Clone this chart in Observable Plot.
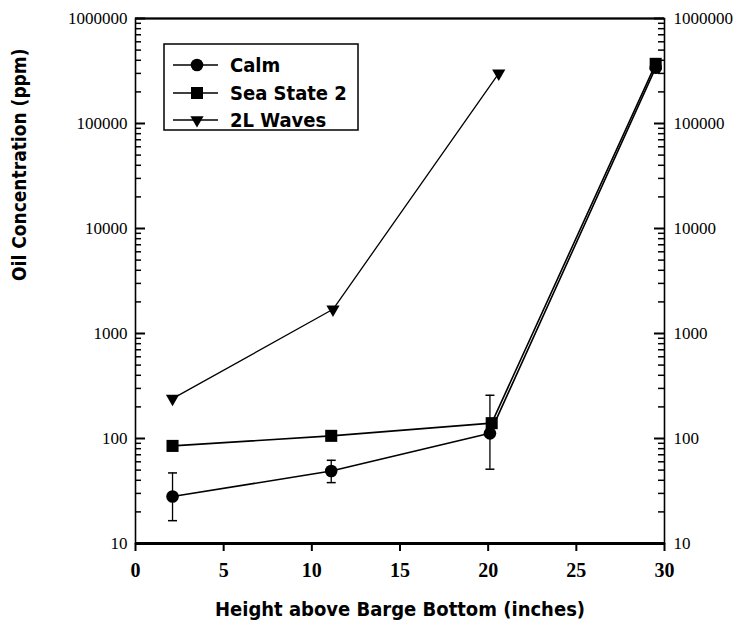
<!DOCTYPE html>
<html>
<head>
<meta charset="utf-8">
<script src="https://cdn.jsdelivr.net/npm/d3@7"></script>
<script src="https://cdn.jsdelivr.net/npm/@observablehq/plot@0.6"></script>
<style>
  html, body { margin: 0; padding: 0; background: white; }
  #wrap { position: relative; width: 753px; height: 628px; }
  #legend { position: absolute; left: 163px; top: 43px; }
</style>
</head>
<body>
<div id="wrap"></div>
<script>
// ---- data ----
const seriesNames = ["Calm", "Sea State 2", "2L Waves"];

const calmX = [2.1, 11.1, 20.1, 29.5];
const calmY = [28, 49, 112, 340000];
const calmErrLow = [16.5, 38, 51];
const calmErrHigh = [47, 62, 258];

const seaX = [2.1, 11.1, 20.2, 29.5];
const seaY = [85, 106, 140, 370000];

const wavesX = [2.1, 11.2, 20.6];
const wavesY = [240, 1700, 300000];

const xTicks = [0, 5, 10, 15, 20, 25, 30];
const yMajor = [10, 100, 1000, 10000, 100000, 1000000];
const yMinorMult = [2, 3, 4, 5, 6, 7, 8, 9];
const yDecades = [10, 100, 1000, 10000, 100000];

const xLabel = "Height above Barge Bottom (inches)";
const yLabel = "Oil Concentration (ppm)";

// ---- build tables ----
const calm = calmX.map((x, i) => ({x, y: calmY[i]}));
const calmErr = calmErrLow.map((lo, i) => ({x: calmX[i], lo, hi: calmErrHigh[i]}));
const sea = seaX.map((x, i) => ({x, y: seaY[i]}));
const waves = wavesX.map((x, i) => ({x, y: wavesY[i]}));
const yMinor = yDecades.flatMap(d => yMinorMult.map(m => m * d));

const W = 753, H = 628, ML = 135, MR = 89, MT = 18, MB = 85;
const FW = W - ML - MR, FH = H - MT - MB;

const capSymbol = {draw(c, s) { const w = Math.sqrt(s / Math.PI); c.moveTo(-w, 0); c.lineTo(w, 0); }};

const serif = "Liberation Serif, Times New Roman, serif";
const cond = "DejaVu Sans Condensed, DejaVu Sans, sans-serif";

const chart = Plot.plot({
  width: W,
  height: H,
  marginLeft: ML,
  marginRight: MR,
  marginTop: MT,
  marginBottom: MB,
  style: {background: "white", color: "black", overflow: "visible"},
  x: {domain: [0, 30], axis: null},
  y: {type: "log", domain: [10, 1000000], axis: null},
  marks: [
    // frame
    Plot.frame({stroke: "black", strokeWidth: 1.6}),
    Plot.ruleY([10], {stroke: "black", strokeWidth: 3}),
    Plot.ruleY([1000000], {stroke: "black", strokeWidth: 2.2}),
    // left axis ticks (inward)
    Plot.ruleY(yMajor, {y: d => d, insetRight: FW - 10, stroke: "black", strokeWidth: 2}),
    Plot.ruleY(yMinor, {y: d => d, insetRight: FW - 6, stroke: "black", strokeWidth: 1.5}),
    Plot.text(yMajor, {y: d => d, text: d => String(d), frameAnchor: "left", dx: -8, textAnchor: "end",
      fontSize: 17, fontFamily: serif}),
    // right axis ticks (inward)
    Plot.ruleY(yMajor, {y: d => d, insetLeft: FW - 10, stroke: "black", strokeWidth: 2}),
    Plot.ruleY(yMinor, {y: d => d, insetLeft: FW - 6, stroke: "black", strokeWidth: 1.5}),
    Plot.text(yMajor, {y: d => d, text: d => String(d), frameAnchor: "right", dx: 9, textAnchor: "start",
      fontSize: 17, fontFamily: serif}),
    // bottom axis ticks (outward) and labels
    Plot.ruleX(xTicks, {x: d => d, insetTop: FH, insetBottom: -8, stroke: "black", strokeWidth: 2}),
    Plot.text(xTicks, {x: d => d, text: d => String(d), frameAnchor: "bottom", dy: 33,
      fontSize: 20, fontWeight: "bold", fontFamily: serif}),
    // axis titles
    Plot.text([xLabel], {frameAnchor: "bottom", dy: 66, lineAnchor: "middle", fontSize: 20, fontWeight: "bold", fontFamily: cond}),
    Plot.text([yLabel], {frameAnchor: "left", dx: -116, rotate: -90, lineAnchor: "middle", fontSize: 19, fontWeight: "bold", fontFamily: cond}),
    // error bars
    Plot.ruleX(calmErr, {x: "x", y1: "lo", y2: "hi", stroke: "black", strokeWidth: 1.3}),
    Plot.dot(calmErr, {x: "x", y: "lo", symbol: capSymbol, r: 4.5, stroke: "black", strokeWidth: 1.5}),
    Plot.dot(calmErr, {x: "x", y: "hi", symbol: capSymbol, r: 4.5, stroke: "black", strokeWidth: 1.5}),
    // lines
    Plot.line(calm, {x: "x", y: "y", stroke: "black", strokeWidth: 1.6}),
    Plot.line(sea, {x: "x", y: "y", stroke: "black", strokeWidth: 1.6}),
    Plot.line(waves, {x: "x", y: "y", stroke: "black", strokeWidth: 1.3}),
    // markers
    Plot.dot(calm, {x: "x", y: "y", symbol: "circle", r: 6.3, fill: "black"}),
    Plot.dot(sea, {x: "x", y: "y", symbol: "square", r: 6.8, fill: "black"}),
    Plot.dot(waves, {x: "x", y: "y", symbol: "triangle", r: 4.9, rotate: 180, fill: "black"})
  ]
});

const wrap = document.getElementById("wrap");
wrap.appendChild(chart);

// ---- legend overlay ----
const lw = 196, lh = 88;
const leg = d3.create("svg").attr("id", "legend").attr("width", lw).attr("height", lh);
leg.append("rect").attr("x", 1).attr("y", 1).attr("width", lw - 2).attr("height", lh - 2)
  .attr("fill", "white").attr("stroke", "black").attr("stroke-width", 1.5);
const symbols = [d3.symbolCircle, d3.symbolSquare, d3.symbolTriangle];
const sizes = [Math.PI * 6.3 * 6.3, Math.PI * 6.8 * 6.8, Math.PI * 4.9 * 4.9];
const rows = [22, 50, 77];
seriesNames.forEach((name, i) => {
  const g = leg.append("g").attr("transform", `translate(0,${rows[i]})`);
  g.append("line").attr("x1", 10).attr("x2", 55).attr("y1", 0).attr("y2", 0)
    .attr("stroke", "black").attr("stroke-width", 1.6);
  g.append("path").attr("d", d3.symbol(symbols[i], sizes[i])())
    .attr("transform", `translate(34,0)${i === 2 ? " rotate(180)" : ""}`).attr("fill", "black");
  g.append("text").attr("x", 67).attr("y", 0).attr("dy", "0.35em")
    .attr("font-family", cond).attr("font-weight", "bold").attr("font-size", 20).text(name);
});
wrap.appendChild(leg.node());
</script>
</body>
</html>
